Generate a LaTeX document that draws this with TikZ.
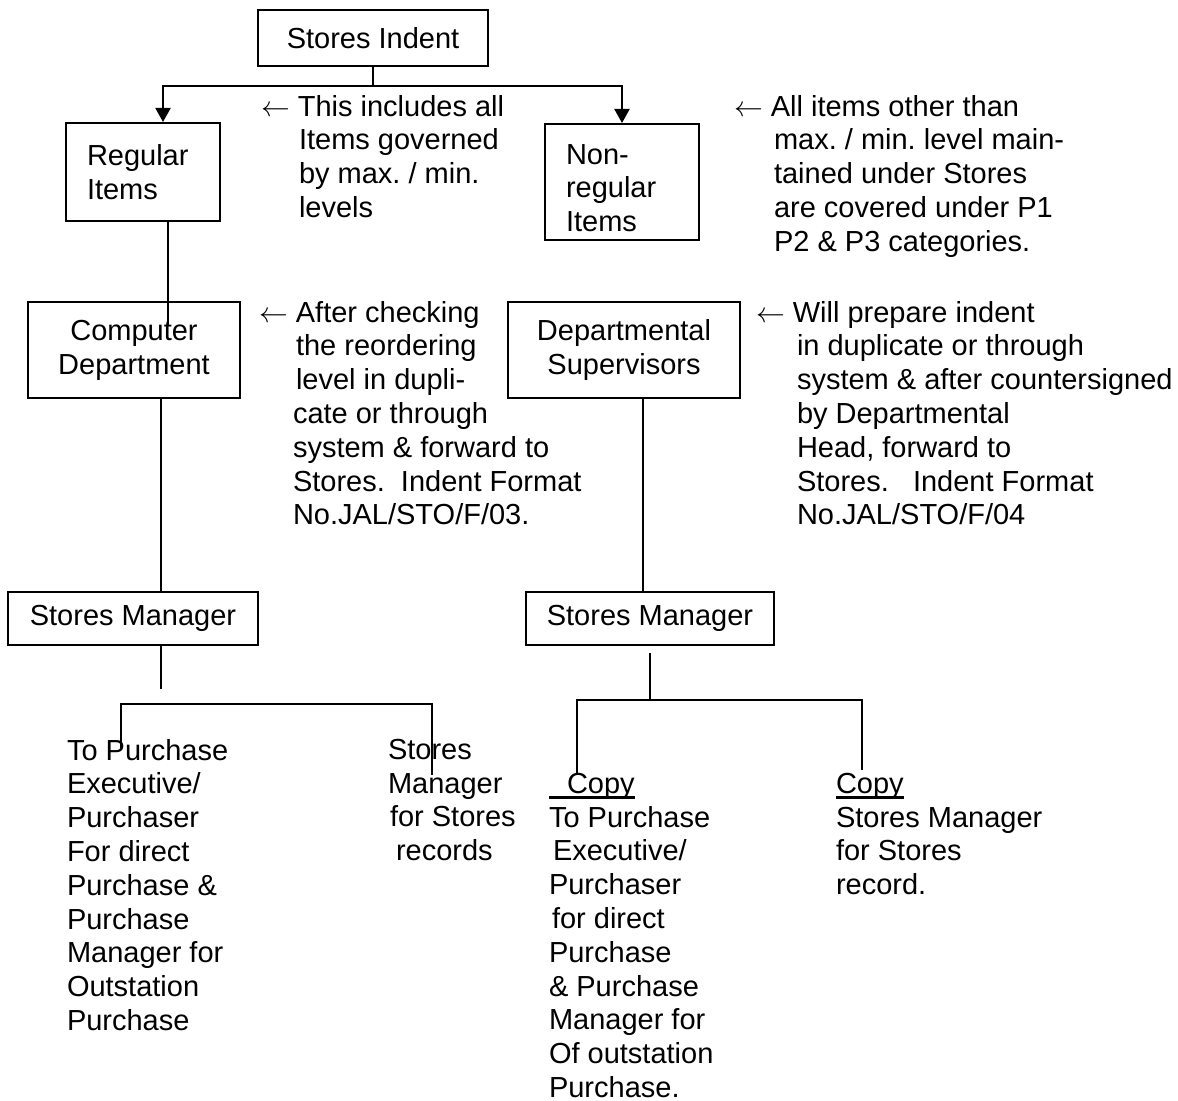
\documentclass[tikz,border=0pt]{standalone}
\usepackage{fontspec}
\setmainfont{Liberation Sans}
\usetikzlibrary{arrows.meta}
\frenchspacing
\newlength\copywd
\newcommand\copyul[1]{\settowidth\copywd{#1}\rlap{\rule[-3pt]{\copywd}{1.5pt}}#1}
\begin{document}
\begin{tikzpicture}[x=0.5pt,y=-0.5pt,>={Triangle[length=7pt,width=7.5pt]},line width=1pt,
	every node/.style={font=\fontsize{14.5}{16.9}\selectfont},
	box/.style={draw,inner sep=0pt,align=center},
	itembox/.style={draw,inner xsep=10.5pt,inner ysep=0pt,text width=56pt,align=left,minimum height=#1},
	note/.style={anchor=north west,align=left,inner sep=0pt}]
	\useasboundingbox (0,0) rectangle (1178,1101);
	% top level
	\node[box,minimum width=115pt,minimum height=28pt] (indent) at (373,38) {Stores Indent};
	\node[itembox=49pt] (regular) at (143,172) {Regular\\Items};
	\node[itembox=58pt] (nonregular) at (622,182) {\rule{0pt}{16pt}Non-\\regular\\Items};
	\draw[->] (indent.south) -- (373,86) -| ([xshift=10pt]regular.north);
	\draw[->] (indent.south) -- (373,86) -| (nonregular.north);
	\node[note] (incl) at (260,94) {$\leftarrow$ This includes all\\\hspace*{19pt}Items governed\\\hspace*{19pt}by max. / min.\\\hspace*{19pt}levels};
	\node[note] (other) at (733,94) {$\leftarrow$ All items other than\\\hspace*{20pt}max. / min. level main-\\\hspace*{20pt}tained under Stores\\\hspace*{20pt}are covered under P1\\\hspace*{20pt}P2 \& P3 categories.};
	% second level
	\node[box,minimum width=106pt,minimum height=48pt] (computer) at (134,350) {Computer\\Department};
	\node[box,minimum width=116pt,minimum height=48pt] (supervisors) at (624,350) {Departmental\\Supervisors};
	\draw ([xshift=12.5pt]regular.south) -- ([xshift=17pt,yshift=-12pt]computer.north);
	\node[note] (checking) at (258,300) {$\leftarrow$ After checking\\\hspace*{18.5pt}the reordering\\\hspace*{18.5pt}level in dupli-\\\hspace*{17pt}cate or through\\\hspace*{17pt}system \& forward to\\\hspace*{17pt}Stores.\ \ Indent Format\\\hspace*{17pt}No.JAL/STO/F/03.};
	\node[note] (prepare) at (755,300) {$\leftarrow$ Will prepare indent\\\hspace*{20.5pt}in duplicate or through\\\hspace*{20.5pt}system \& after countersigned\\\hspace*{20.5pt}by Departmental\\\hspace*{20.5pt}Head, forward to\\\hspace*{20.5pt}Stores.\ \ \ Indent Format\\\hspace*{20.5pt}No.JAL/STO/F/04};
	% stores managers
	\node[box,minimum width=125pt,minimum height=26.5pt] (managerA) at (133,618) {Stores Manager};
	\node[box,minimum width=124pt,minimum height=26.5pt] (managerB) at (650,618) {Stores Manager};
	\draw ([xshift=13.5pt]computer.south) -- ([xshift=13.5pt]computer.south |- managerA.north);
	\draw ([xshift=9.5pt]supervisors.south) -- ([xshift=9.5pt]supervisors.south |- managerB.north);
	\draw ([xshift=14pt]managerA.south) -- ++(0,43);
	\draw ([yshift=-3.5pt]managerB.south) -- (650,700);
	% copies
	\node[note] (purchaseA) at (66,738) {To Purchase\\Executive/\\Purchaser\\For direct\\Purchase \&\\Purchase\\Manager for\\Outstation\\Purchase};
	\node[note] (recordsA) at (387,738) {Stores\\Manager\\\hspace*{1pt}for Stores\\\hspace*{4pt}records};
	\node[note] (purchaseB) at (548,772) {\copyul{\hspace*{9pt}Copy}\\To Purchase\\\hspace*{2pt}Executive/\\Purchaser\\\hspace*{1.5pt}for direct\\Purchase\\\& Purchase\\Manager for\\Of outstation\\Purchase.};
	\node[note] (recordsB) at (835,772) {\copyul{Copy}\\Stores Manager\\for Stores\\record.};
	\draw (121,748) |- (432,704) -- (432,775);
	\draw (577,775) |- (862,700) -- (862,770);
\end{tikzpicture}
\end{document}
